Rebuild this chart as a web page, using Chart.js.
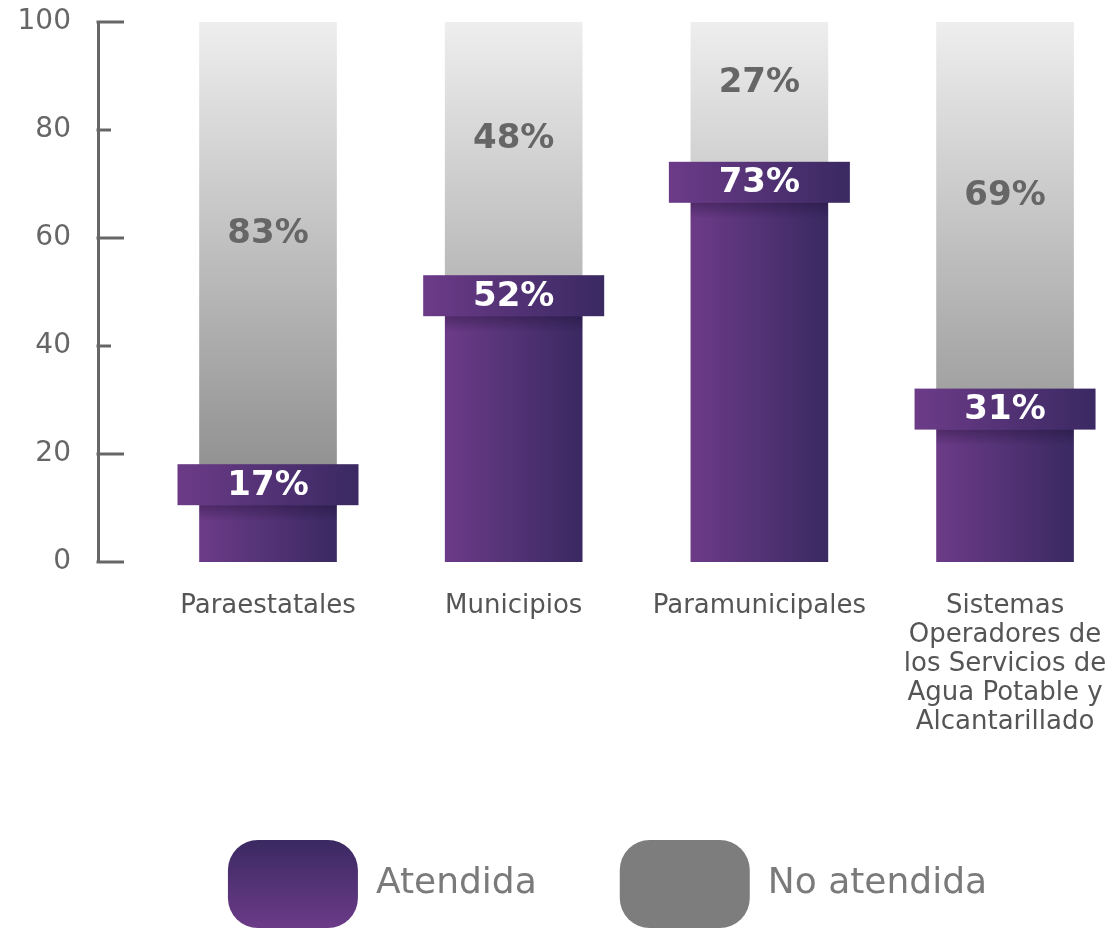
<!DOCTYPE html>
<html><head><meta charset="utf-8">
<script src="https://cdn.jsdelivr.net/npm/chart.js@4"></script>
<style>html,body{margin:0;padding:0;background:#fff;overflow:hidden;}#wrap{width:1107px;height:928px;position:relative;}</style>
</head><body><div id="wrap"><canvas id="c" width="1107" height="928"></canvas></div>
<script>
const categories = ['Paraestatales', 'Municipios', 'Paramunicipales', ['Sistemas', 'Operadores de', 'los Servicios de', 'Agua Potable y', 'Alcantarillado']];
const atendida = [17, 52, 73, 31];
const noAtendida = [83, 48, 27, 69];
const seriesNames = ['Atendida', 'No atendida'];
const yTicks = [0, 20, 40, 60, 80, 100];

const FONT = '"DejaVu Sans", "Noto Sans", sans-serif';
const BAR_W = 137;

function purpleGrad(ctx, x0, x1) {
  const g = ctx.createLinearGradient(x0, 0, x1, 0);
  g.addColorStop(0, '#6c3b88');
  g.addColorStop(1, '#3a2962');
  return g;
}

const overlay = {
  id: 'overlay',
  afterLayout(chart) {
    const lg = chart.legend;
    if (lg) { lg.left += 54; lg.right += 54; }
  },
  beforeDraw(chart) {
    const lg = chart.legend;
    if (lg && lg.legendItems && lg.legendItems[0]) {
      const g = chart.ctx.createLinearGradient(0, lg.top + 83, 0, lg.top + 171);
      g.addColorStop(0, '#3a2962'); g.addColorStop(1, '#6c3b88');
      lg.legendItems[0].fillStyle = g;
    }
  },
  afterDatasetsDraw(chart) {
    const ctx = chart.ctx;
    const m0 = chart.getDatasetMeta(0), m1 = chart.getDatasetMeta(1);
    ctx.save();
    ctx.textAlign = 'center'; ctx.textBaseline = 'middle';
    m1.data.forEach((bar, i) => {
      ctx.fillStyle = '#666666';
      ctx.font = 'bold 34px ' + FONT;
      ctx.fillText(noAtendida[i] + '%', bar.x, (bar.y + bar.base) / 2 - 12);
    });
    m0.data.forEach((bar, i) => {
      const half = bar.width / 2 + 22;
      const top = bar.y - 6, h = 41;
      const sg = ctx.createLinearGradient(0, top + h, 0, top + h + 16);
      sg.addColorStop(0, 'rgba(25,12,45,0.35)'); sg.addColorStop(1, 'rgba(25,12,45,0)');
      ctx.fillStyle = sg;
      ctx.fillRect(bar.x - bar.width / 2, top + h, bar.width, 16);
      ctx.fillStyle = purpleGrad(ctx, bar.x - half, bar.x + half);
      ctx.fillRect(bar.x - half, top, half * 2, h);
      ctx.fillStyle = '#ffffff';
      ctx.font = 'bold 34px ' + FONT;
      ctx.fillText(atendida[i] + '%', bar.x, top + h / 2 + 1);
    });
    const ys = chart.scales.y, left = chart.chartArea.left;
    ctx.strokeStyle = '#666'; ctx.lineWidth = 3;
    yTicks.forEach(v => {
      const len = (v === 0 || v % 40 === 20) ? 26 : 13;
      const y = ys.getPixelForValue(v);
      ctx.beginPath(); ctx.moveTo(left - 1.5, y); ctx.lineTo(left + len, y); ctx.stroke();
    });
    ctx.restore();
  }
};

new Chart(document.getElementById('c'), {
  type: 'bar',
  data: {
    datasets: [
      {
        label: seriesNames[0],
        data: atendida.map((v, i) => ({ x: i, y: v })),
        backgroundColor: (c) => {
          const ch = c.chart;
          if (!ch.chartArea || c.dataIndex === undefined) return '#553270';
          const x = ch.scales.x.getPixelForValue(c.dataIndex);
          return purpleGrad(ch.ctx, x - BAR_W / 2, x + BAR_W / 2);
        },
        borderWidth: 0, barThickness: BAR_W, stack: 's'
      },
      {
        label: seriesNames[1],
        data: noAtendida.map((v, i) => ({ x: i, y: v })),
        backgroundColor: (c) => {
          const ch = c.chart; const a = ch.chartArea;
          if (!a) return '#aaaaaa';
          const g = ch.ctx.createLinearGradient(0, a.top, 0, a.bottom);
          g.addColorStop(0, '#eeeeee'); g.addColorStop(1, '#7e7e7e');
          return g;
        },
        borderWidth: 0, barThickness: BAR_W, stack: 's'
      }
    ]
  },
  options: {
    responsive: false, animation: false, devicePixelRatio: 1,
    layout: { padding: { top: 22, right: 0, left: 0, bottom: -10 } },
    scales: {
      x: {
        type: 'linear', stacked: true, min: -0.692, max: 3.415, offset: false,
        afterBuildTicks: (s) => { s.ticks = categories.map((_, i) => ({ value: i })); },
        afterFit: (s) => { s.height = 195; s.paddingLeft = 0; s.paddingRight = 0; },
        grid: { display: false, drawTicks: false }, border: { display: false },
        ticks: {
          autoSkip: false, maxRotation: 0, padding: 30, color: '#555555',
          font: { family: FONT, size: 26, lineHeight: '29px' },
          callback: (v) => categories[v]
        }
      },
      y: {
        stacked: true, min: 0, max: 100,
        afterBuildTicks: (s) => { s.ticks = yTicks.map(v => ({ value: v })); },
        afterFit: (s) => { s.width = 98; s.paddingTop = 0; s.paddingBottom = 0; },
        grid: { display: false, drawTicks: false },
        border: { display: true, color: '#666666', width: 3 },
        ticks: { padding: 27, color: '#666666', font: { family: FONT, size: 28 } }
      }
    },
    plugins: {
      tooltip: { enabled: false },
      legend: {
        position: 'bottom',
        labels: {
          boxWidth: 130, boxHeight: 88, useBorderRadius: true, borderRadius: 30,
          padding: 83, color: '#7a7a7a', font: { family: FONT, size: 36 },
          generateLabels: (chart) => seriesNames.map((n, i) => ({
            text: n, fillStyle: i === 0 ? '#553270' : '#7d7d7e', strokeStyle: 'rgba(0,0,0,0)',
            lineWidth: 0, datasetIndex: i, hidden: false, borderRadius: 30, fontColor: '#7a7a7a'
          }))
        }
      }
    }
  },
  plugins: [overlay]
});
</script></body></html>
